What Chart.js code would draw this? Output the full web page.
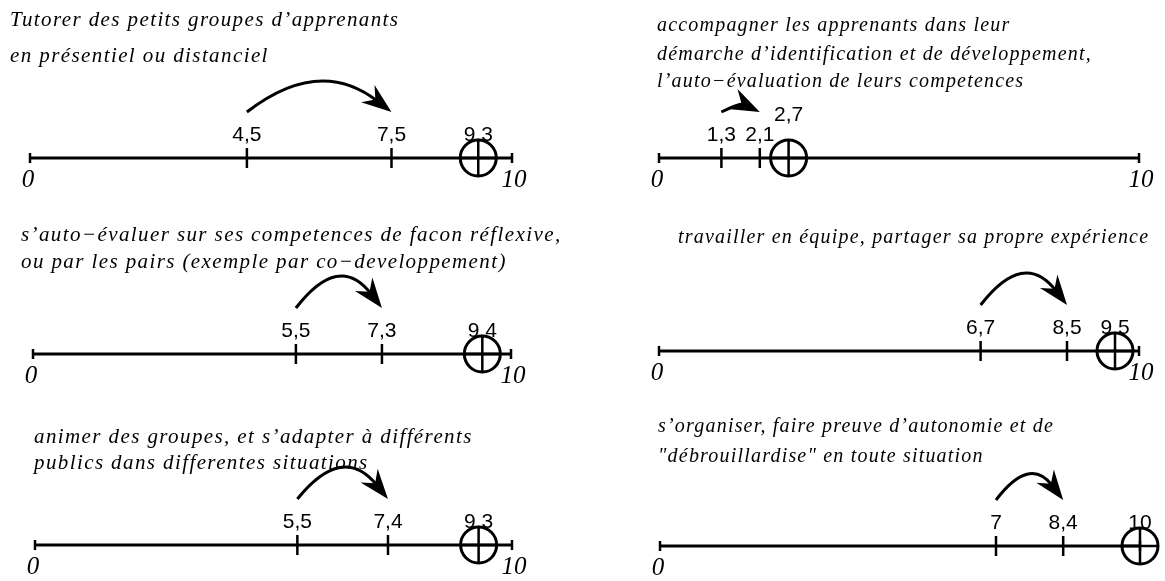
<html>
<script src="https://cdn.jsdelivr.net/npm/chart.js"></script>

<body style="margin:0;background:#fff">

    <div id="wrap" style="position:relative;width:1165px;height:581px"></div>

    <script>
        // --- data ---
        const titles = [
            ["Tutorer des petits groupes d\u2019apprenants", "en présentiel ou distanciel"],
            ["s\u2019auto\u2212évaluer sur ses competences de facon réflexive,", "ou par les pairs (exemple par co\u2212developpement)"],
            ["animer des groupes, et s\u2019adapter à différents", "publics dans differentes situations"],
            ["accompagner les apprenants dans leur", "démarche d\u2019identification et de développement,", "l\u2019auto\u2212évaluation de leurs competences"],
            ["travailler en équipe, partager sa propre expérience"],
            ["s\u2019organiser, faire preuve d\u2019autonomie et de", "\"débrouillardise\" en toute situation"]
        ];
        const startValues = [4.5, 5.5, 5.5, 1.3, 6.7, 7];
        const endValues = [7.5, 7.3, 7.4, 2.1, 8.5, 8.4];
        const targetValues = [9.3, 9.4, 9.3, 2.7, 9.5, 10];
        const axisMin = 0;
        const axisMax = 10;
        const axisLabels = ["0", "10"];

        // --- where each little scale sits on the page ---
        const W = 1165, H = 581;
        const panels = [
            { x0: 30, x1: 512, y: 158, tx: 10, ty: [26, 62], fs: 21 },
            { x0: 33, x1: 511, y: 354, tx: 21, ty: [241, 268], fs: 21 },
            { x0: 35, x1: 512, y: 545, tx: 34, ty: [443, 469], fs: 21 },
            { x0: 659, x1: 1139, y: 158, tx: 657, ty: [31, 60, 87], fs: 20 },
            { x0: 659, x1: 1139, y: 351, tx: 678, ty: [243], fs: 20 },
            { x0: 660, x1: 1140, y: 546, tx: 658, ty: [432, 462], fs: 20, hideMax: true }
        ];

        const fmt = v => String(v).replace(".", ",");

        function drawArrow(ctx, xa, xb, y0) {
            const span = xb - xa;
            const rise = span < 60 ? span * 0.12 : Math.min(28, span * 0.33);
            const cx = (xa + xb) / 2, cy = y0 - rise * 2;
            const dx = xb - cx, dy = y0 - cy;
            const len = Math.hypot(dx, dy);
            const ux = dx / len, uy = dy / len;
            const headLen = Math.min(30, span * 0.9), headW = 11;
            ctx.save();
            ctx.strokeStyle = "#000";
            ctx.fillStyle = "#000";
            ctx.lineWidth = 3;
            ctx.beginPath();
            ctx.moveTo(xa, y0);
            ctx.quadraticCurveTo(cx, cy, xb - ux * headLen * 0.6, y0 - uy * headLen * 0.6);
            ctx.stroke();
            const bx = xb - ux * headLen, by = y0 - uy * headLen;
            ctx.beginPath();
            ctx.moveTo(xb, y0);
            ctx.lineTo(bx - uy * headW, by + ux * headW);
            ctx.lineTo(xb - ux * headLen * 0.68, y0 - uy * headLen * 0.68);
            ctx.lineTo(bx + uy * headW, by - ux * headW);
            ctx.closePath();
            ctx.fill();
            ctx.restore();
        }

        const decor = {
            id: "decor",
            afterDraw(chart) {
                const i = chart.options.panelIndex;
                const p = panels[i];
                const ctx = chart.ctx;
                const xs = chart.scales.x;
                const y = chart.chartArea.bottom;
                const xa = xs.getPixelForValue(startValues[i]);
                const xb = xs.getPixelForValue(endValues[i]);
                const xt = xs.getPixelForValue(targetValues[i]);

                ctx.save();
                ctx.fillStyle = "#000";
                // title
                ctx.font = "italic " + p.fs + 'px "Liberation Serif"';
                ctx.letterSpacing = p.fs > 20 ? "1.4px" : "1.2px";
                ctx.textAlign = "left";
                ctx.textBaseline = "alphabetic";
                titles[i].forEach((t, k) => ctx.fillText(t, p.tx, p.ty[k]));
                ctx.letterSpacing = "0px";

                // value labels
                ctx.font = '21px "Liberation Sans"';
                ctx.textAlign = "center";
                ctx.fillText(fmt(startValues[i]), xa, y - 17);
                ctx.fillText(fmt(endValues[i]), xb, y - 17);
                const raise = Math.abs(xt - xb) < 40 ? 37 : 17;
                ctx.fillText(fmt(targetValues[i]), xt, y - raise);

                // axis end labels
                ctx.font = 'italic 25px "Liberation Serif"';
                ctx.fillText(axisLabels[0], xs.getPixelForValue(axisMin) - 2, y + 29);
                if (!p.hideMax) ctx.fillText(axisLabels[1], xs.getPixelForValue(axisMax) + 2, y + 29);
                ctx.restore();

                drawArrow(ctx, xa, xb, y - 46);
            }
        };

        const wrap = document.getElementById("wrap");

        panels.forEach((p, i) => {
            const c = document.createElement("canvas");
            c.width = W;
            c.height = H;
            c.style.cssText = "position:absolute;left:0;top:0;width:" + W + "px;height:" + H + "px";
            wrap.appendChild(c);

            new Chart(c, {
                type: "scatter",
                data: {
                    datasets: [
                        {
                            data: [{ x: axisMin, y: 0 }, { x: axisMax, y: 0 }],
                            showLine: true, borderColor: "#000", borderWidth: 3,
                            pointRadius: 0, clip: false
                        },
                        {
                            data: [{ x: axisMin, y: 0 }, { x: axisMax, y: 0 }],
                            pointStyle: "line", pointRotation: 90, pointRadius: 5,
                            pointBorderWidth: 2.5, pointBorderColor: "#000", clip: false
                        },
                        {
                            data: [{ x: startValues[i], y: 0 }, { x: endValues[i], y: 0 }],
                            pointStyle: "line", pointRotation: 90, pointRadius: 10,
                            pointBorderWidth: 2.5, pointBorderColor: "#000", clip: false
                        },
                        {
                            data: [{ x: targetValues[i], y: 0 }],
                            pointStyle: "circle", pointRadius: 18,
                            pointBorderWidth: 3, pointBorderColor: "#000",
                            pointBackgroundColor: "rgba(0,0,0,0)", clip: false
                        },
                        {
                            data: [{ x: targetValues[i], y: 0 }],
                            pointStyle: "cross", pointRadius: 18,
                            pointBorderWidth: 2.5, pointBorderColor: "#000", clip: false
                        }
                    ]
                },
                options: {
                    panelIndex: i,
                    responsive: false,
                    animation: false,
                    events: [],
                    layout: { padding: { left: p.x0, right: W - p.x1, top: p.y - 120, bottom: H - p.y } },
                    scales: {
                        x: { type: "linear", min: axisMin, max: axisMax, display: false },
                        y: { type: "linear", min: 0, max: 1, display: false }
                    },
                    plugins: { legend: { display: false }, tooltip: { enabled: false } }
                },
                plugins: [decor]
            });
        });
    </script>

</body>

</html>
